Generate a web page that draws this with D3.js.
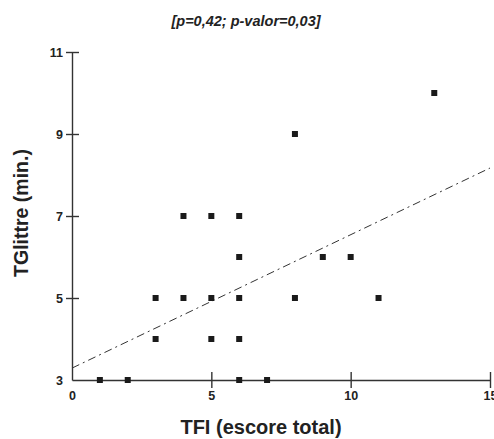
<!DOCTYPE html>
<html>
<head>
<meta charset="utf-8">
<script src="https://cdn.jsdelivr.net/npm/d3@7"></script>
<style>
  body { margin: 0; background: #fff; }
  svg text { font-family: "Liberation Sans", Arial, sans-serif; fill: #222; }
</style>
</head>
<body>
<div id="chart"></div>
<script>
// data
var tfi     = [1, 2, 6, 7, 3, 5, 6, 3, 4, 5, 6, 8, 11, 6, 9, 10, 4, 5, 6, 8, 13];
var tglitre = [3, 3, 3, 3, 4, 4, 4, 5, 5, 5, 5, 5, 5, 6, 6, 6, 7, 7, 7, 9, 10];
var xTicks = [0, 5, 10, 15];
var yTicks = [3, 5, 7, 9, 11];
var fitLine = [[0, 3.29], [15, 8.17]];  // regression line ends

var canvas_width = 494, canvas_height = 439;

var svg = d3.select("#chart").append("svg")
    .attr("width", canvas_width)
    .attr("height", canvas_height);

var x = d3.scaleLinear().domain([0, 15]).range([72, 490]);
var y = d3.scaleLinear().domain([3, 11]).range([380, 52]);

// axes: ticks cross the axis line
var xAxis = d3.axisBottom(x).tickValues(xTicks).tickSize(0).tickPadding(11);
var gx = svg.append("g").attr("transform", "translate(0," + y(3) + ")").call(xAxis);
gx.select(".domain").attr("stroke", "#333").attr("stroke-width", 1.4);
gx.selectAll(".tick line").attr("y1", -8).attr("y2", 8).attr("stroke", "#333").attr("stroke-width", 1.4);
gx.selectAll(".tick text").attr("font-size", "12.5px").style("font-weight", "bold").attr("fill", "#222")
  .attr("font-family", "Liberation Sans, Arial, sans-serif");
gx.selectAll(".tick").filter(function(d) { return d == 0; }).select("line").remove();

var yAxis = d3.axisLeft(y).tickValues(yTicks).tickSize(0).tickPadding(9);
var gy = svg.append("g").attr("transform", "translate(" + x(0) + ",0)").call(yAxis);
gy.select(".domain").attr("stroke", "#333").attr("stroke-width", 1.4);
gy.selectAll(".tick line").attr("x1", -6).attr("x2", 7).attr("stroke", "#333").attr("stroke-width", 1.4);
gy.selectAll(".tick text").attr("font-size", "12.5px").style("font-weight", "bold").attr("fill", "#222")
  .attr("font-family", "Liberation Sans, Arial, sans-serif");
gy.selectAll(".tick").filter(function(d) { return d == 3; }).select("line").remove();

// regression line
svg.append("line")
    .attr("x1", x(fitLine[0][0])).attr("y1", y(fitLine[0][1]))
    .attr("x2", x(fitLine[1][0])).attr("y2", y(fitLine[1][1]))
    .attr("stroke", "#333")
    .attr("stroke-width", 1)
    .attr("stroke-dasharray", "8,4,2,4");

// points
svg.selectAll("rect.pt")
    .data(d3.range(tfi.length))
    .enter().append("rect")
    .attr("class", "pt")
    .attr("x", function(i) { return x(tfi[i]) - 3; })
    .attr("y", function(i) { return y(tglitre[i]) - 3; })
    .attr("width", 6)
    .attr("height", 6)
    .attr("fill", "#1a1a1a");

// title
svg.append("text")
    .attr("x", 246).attr("y", 26)
    .attr("text-anchor", "middle")
    .style("font-weight", "bold")
    .style("font-style", "italic")
    .attr("font-size", "14.5px")
    .text("[p=0,42; p-valor=0,03]");

// axis titles
svg.append("text")
    .attr("x", 261).attr("y", 434)
    .attr("text-anchor", "middle")
    .style("font-weight", "bold")
    .attr("font-size", "20px")
    .text("TFI (escore total)");

svg.append("text")
    .attr("transform", "translate(28,213) rotate(-90)")
    .attr("text-anchor", "middle")
    .style("font-weight", "bold")
    .attr("font-size", "19.5px")
    .text("TGlittre (min.)");
</script>
</body>
</html>
